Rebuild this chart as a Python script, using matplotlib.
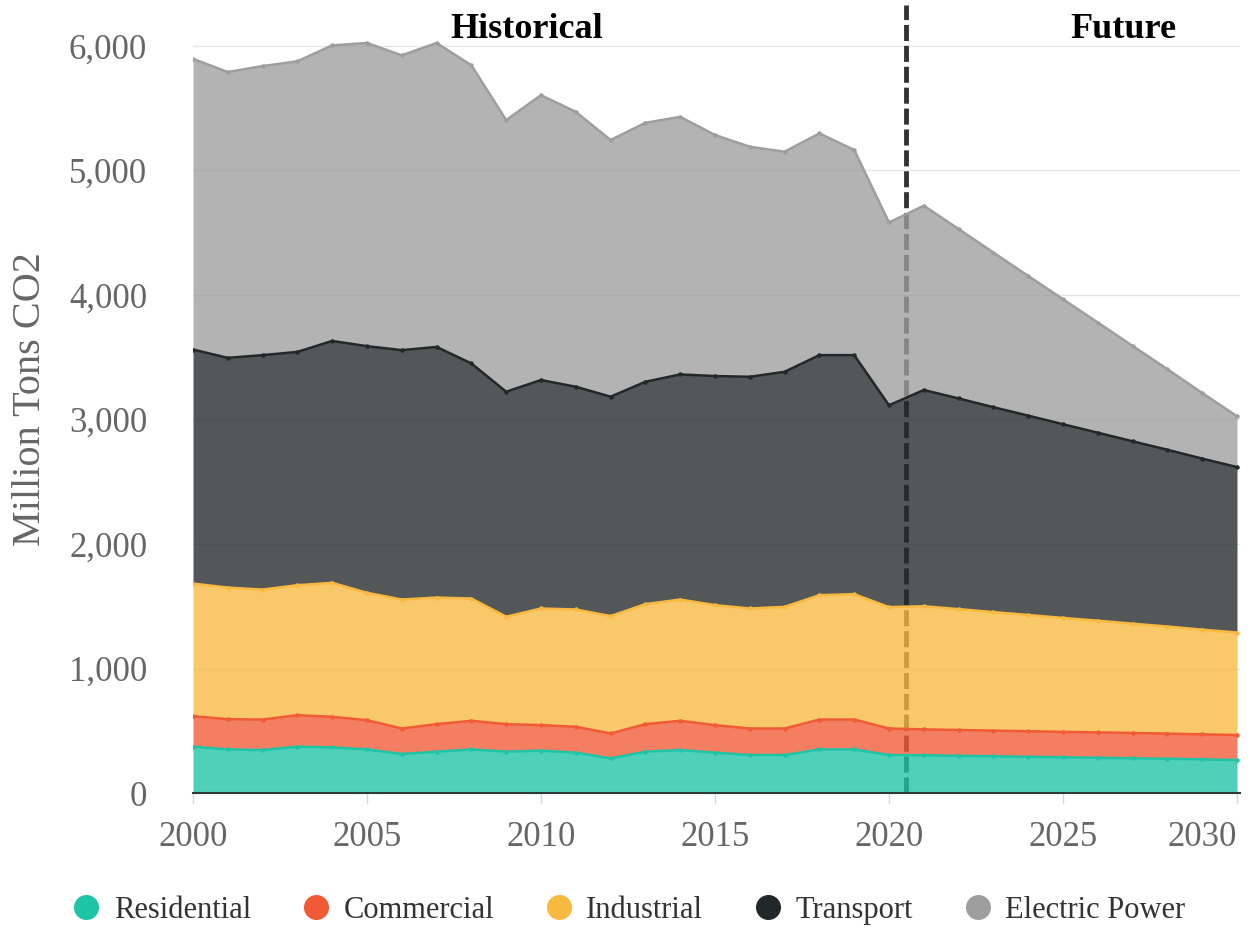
import numpy as np
import matplotlib

matplotlib.use("Agg")
import matplotlib.pyplot as plt
from matplotlib.lines import Line2D

plt.rcParams["font.family"] = ["Liberation Serif", "DejaVu Serif"]

years = list(range(2000, 2031))

# million tons CO2 per sector
residential = [372, 350, 345, 372, 366, 350, 313, 332, 350, 332,
               340, 324, 278, 332, 345, 324, 305, 305, 350, 350,
               305, 303, 299, 295, 291, 287, 283, 279, 275, 270, 265]
commercial = [245, 243, 245, 253, 246, 235, 205, 221, 230, 221,
              205, 208, 200, 221, 235, 221, 213, 213, 240, 240,
              213, 208, 207, 206, 205, 204, 204, 203, 202, 201, 201]
industrial = [1065, 1057, 1044, 1044, 1076, 1023, 1036, 1017, 982, 863,
              937, 942, 943, 964, 974, 964, 964, 977, 999, 1007,
              975, 989, 971, 952, 934, 915, 897, 878, 860, 841, 823]
transport = [1880, 1845, 1883, 1874, 1943, 1981, 2003, 2013, 1888, 1807,
             1835, 1789, 1762, 1786, 1808, 1840, 1861, 1888, 1928, 1920,
             1621, 1737, 1692, 1646, 1601, 1556, 1510, 1465, 1420, 1374, 1329]
electric = [2335, 2296, 2322, 2334, 2374, 2435, 2368, 2441, 2395, 2182,
            2288, 2208, 2062, 2080, 2069, 1936, 1848, 1768, 1781, 1648,
            1469, 1480, 1361, 1242, 1122, 1004, 885, 766, 647, 527, 408]

sectors = ["Residential", "Commercial", "Industrial", "Transport", "Electric Power"]
colors = ["#1dc4a6", "#f05a35", "#f8b940", "#222829", "#9e9e9e"]

divider_year = 2020.5

W, H = 1249, 927
fig = plt.figure(figsize=(W / 100, H / 100), dpi=100)
ax = fig.add_axes([193 / W, (H - 793) / H, (1240 - 193) / W, (793 - 5) / H])

x = np.array(years)
stack = np.vstack([residential, commercial, industrial, transport, electric])
tops = np.cumsum(stack, axis=0)
bottoms = np.vstack([np.zeros(len(years)), tops[:-1]])

for i, (name, col) in enumerate(zip(sectors, colors)):
    ax.fill_between(x, bottoms[i], tops[i], color=col, alpha=0.78,
                    linewidth=0, zorder=3)
    ax.plot(x, tops[i], color=col, lw=1.8, marker="o", markersize=2.2,
            zorder=4 + i)

ax.axvline(divider_year, color="#333333", lw=3.5, ls=(0, (3.3, 1.0)), zorder=2)

ax.set_xlim(2000, 2000 + (1240 - 193) / 34.8)
ax.set_ylim(0, (793 - 5) / 0.1245)
ax.set_yticks(range(0, 7000, 1000))
ax.set_yticklabels([f"{v:,}" for v in range(0, 7000, 1000)])
ax.set_xticks(range(2000, 2031, 5))

ax.grid(axis="y", color="#e6e6e6", lw=1, zorder=0)
ax.set_axisbelow(True)
for s in ["top", "right", "left"]:
    ax.spines[s].set_visible(False)
ax.spines["bottom"].set_color("#2b3b3a")
ax.spines["bottom"].set_linewidth(1.5)
ax.spines["bottom"].set_zorder(10)

ax.tick_params(axis="y", length=0, pad=33, labelsize=25, labelcolor="#666666")
ax.tick_params(axis="x", length=7, width=1, color="#ccd6eb", pad=13,
               labelsize=25, labelcolor="#666666")
# last year label is pulled inside the figure, as in the original
xlabels = ax.get_xticklabels()
xlabels[-1].set_horizontalalignment("right")
xlabels[-1].set_x(2030.15)

ax.set_ylabel("Million Tons CO2", fontsize=29, color="#666666", labelpad=14)

fig.text(527 / W, 1 - 30 / H, "Historical", ha="center", va="center",
         fontsize=26, fontweight="bold", color="black")
fig.text(1123 / W, 1 - 30 / H, "Future", ha="center", va="center",
         fontsize=26, fontweight="bold", color="black")

handles = [Line2D([], [], ls="none", marker="o", markersize=17,
                  markerfacecolor=c, markeredgecolor=c) for c in colors]
fig.legend(handles, sectors, loc="center", bbox_to_anchor=(0.503, 0.018),
           ncol=5, frameon=False, fontsize=22, handlelength=1.0,
           handletextpad=0.4, columnspacing=1.62, labelcolor="#333333")

fig.savefig("out.png", dpi=100)
